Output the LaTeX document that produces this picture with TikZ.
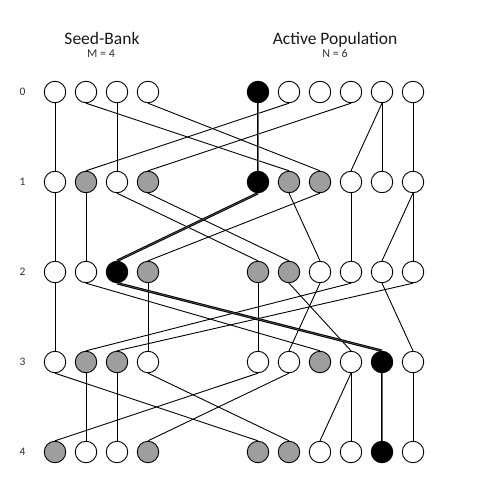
\documentclass[tikz,border=0pt]{standalone}
\usepackage{fontspec}
\setmainfont{Carlito}
\usetikzlibrary{backgrounds}
\tikzset{
  ind/.style={circle, draw=black, line width=0.9pt, minimum size=21.5pt, inner sep=0pt, fill=white},
  W/.style={ind},
  G/.style={ind, fill=black!38},
  B/.style={ind, fill=black},
  link/.style={line width=0.9pt, black},
  lineage/.style={line width=1pt, draw=black, double=black!60, double distance=0.5pt},
  title/.style={anchor=base, font=\fontsize{17.5}{20}\selectfont, text=black!90},
  sub/.style={anchor=base, font=\fontsize{12}{14}\selectfont, text=black!80},
  rowlab/.style={font=\fontsize{11.5}{13}\selectfont, text=black!80}
}
\begin{document}
\begin{tikzpicture}[x=1pt,y=-1pt]
\useasboundingbox (0,0) rectangle (500,500);
% titles
\node[title] (t1) at (102,45) {Seed-Bank};
\node[sub] (m1) at (101,57.5) {M = 4};
\node[title] (t2) at (335,45) {Active Population};
\node[sub] (n1) at (335,57.5) {N = 6};
% row labels
\node[rowlab] (l0) at (22.5,92) {0};
\node[rowlab] (l1) at (22.5,182) {1};
\node[rowlab] (l2) at (22.5,272) {2};
\node[rowlab] (l3) at (22.5,362) {3};
\node[rowlab] (l4) at (22.5,452) {4};
% row 0
\node[W] (s01) at (55,92) {};
\node[W] (s02) at (86,92) {};
\node[W] (s03) at (117,92) {};
\node[W] (s04) at (148,92) {};
\node[B] (a01) at (258,92) {};
\node[W] (a02) at (289,92) {};
\node[W] (a03) at (320,92) {};
\node[W] (a04) at (351,92) {};
\node[W] (a05) at (382,92) {};
\node[W] (a06) at (413,92) {};
% row 1
\node[W] (s11) at (55,182) {};
\node[G] (s12) at (86,182) {};
\node[W] (s13) at (117,182) {};
\node[G] (s14) at (148,182) {};
\node[B] (a11) at (258,182) {};
\node[G] (a12) at (289,182) {};
\node[G] (a13) at (320,182) {};
\node[W] (a14) at (351,182) {};
\node[W] (a15) at (382,182) {};
\node[W] (a16) at (413,182) {};
% row 2
\node[W] (s21) at (55,272) {};
\node[W] (s22) at (86,272) {};
\node[B] (s23) at (117,272) {};
\node[G] (s24) at (148,272) {};
\node[G] (a21) at (258,272) {};
\node[G] (a22) at (289,272) {};
\node[W] (a23) at (320,272) {};
\node[W] (a24) at (351,272) {};
\node[W] (a25) at (382,272) {};
\node[W] (a26) at (413,272) {};
% row 3
\node[W] (s31) at (55,362) {};
\node[G] (s32) at (86,362) {};
\node[G] (s33) at (117,362) {};
\node[W] (s34) at (148,362) {};
\node[W] (a31) at (258,362) {};
\node[W] (a32) at (289,362) {};
\node[G] (a33) at (320,362) {};
\node[W] (a34) at (351,362) {};
\node[B] (a35) at (382,362) {};
\node[W] (a36) at (413,362) {};
% row 4
\node[G] (s41) at (55,452) {};
\node[W] (s42) at (86,452) {};
\node[W] (s43) at (117,452) {};
\node[G] (s44) at (148,452) {};
\node[G] (a41) at (258,452) {};
\node[G] (a42) at (289,452) {};
\node[W] (a43) at (320,452) {};
\node[W] (a44) at (351,452) {};
\node[B] (a45) at (382,452) {};
\node[W] (a46) at (413,452) {};
\begin{scope}[on background layer]
\foreach \u/\v in {s01/s11, s02/a12, s03/s13, s04/a13, a02/s12, a04/s14, a05/a14, a05/a15, a06/a16,
  s11/s21, s12/s22, s13/a21, s14/a22, a12/a23, a13/s24, a14/a24, a16/a25, a16/a26,
  s21/s31, s22/a33, s24/s34, a21/a31, a22/a34, a23/a32, a24/s32, a25/a36, a26/s33,
  s31/a41, s32/s42, s33/s43, s34/a42, a31/s41, a32/s44, a34/a43, a34/a44, a36/a46}
  \draw[link] (\u.south) -- (\v.north);
\foreach \u/\v in {a01/a11, a11/s23, s23/a35, a35/a45}
  \draw[lineage] (\u.south) -- (\v.north);
\end{scope}
\end{tikzpicture}
\end{document}
